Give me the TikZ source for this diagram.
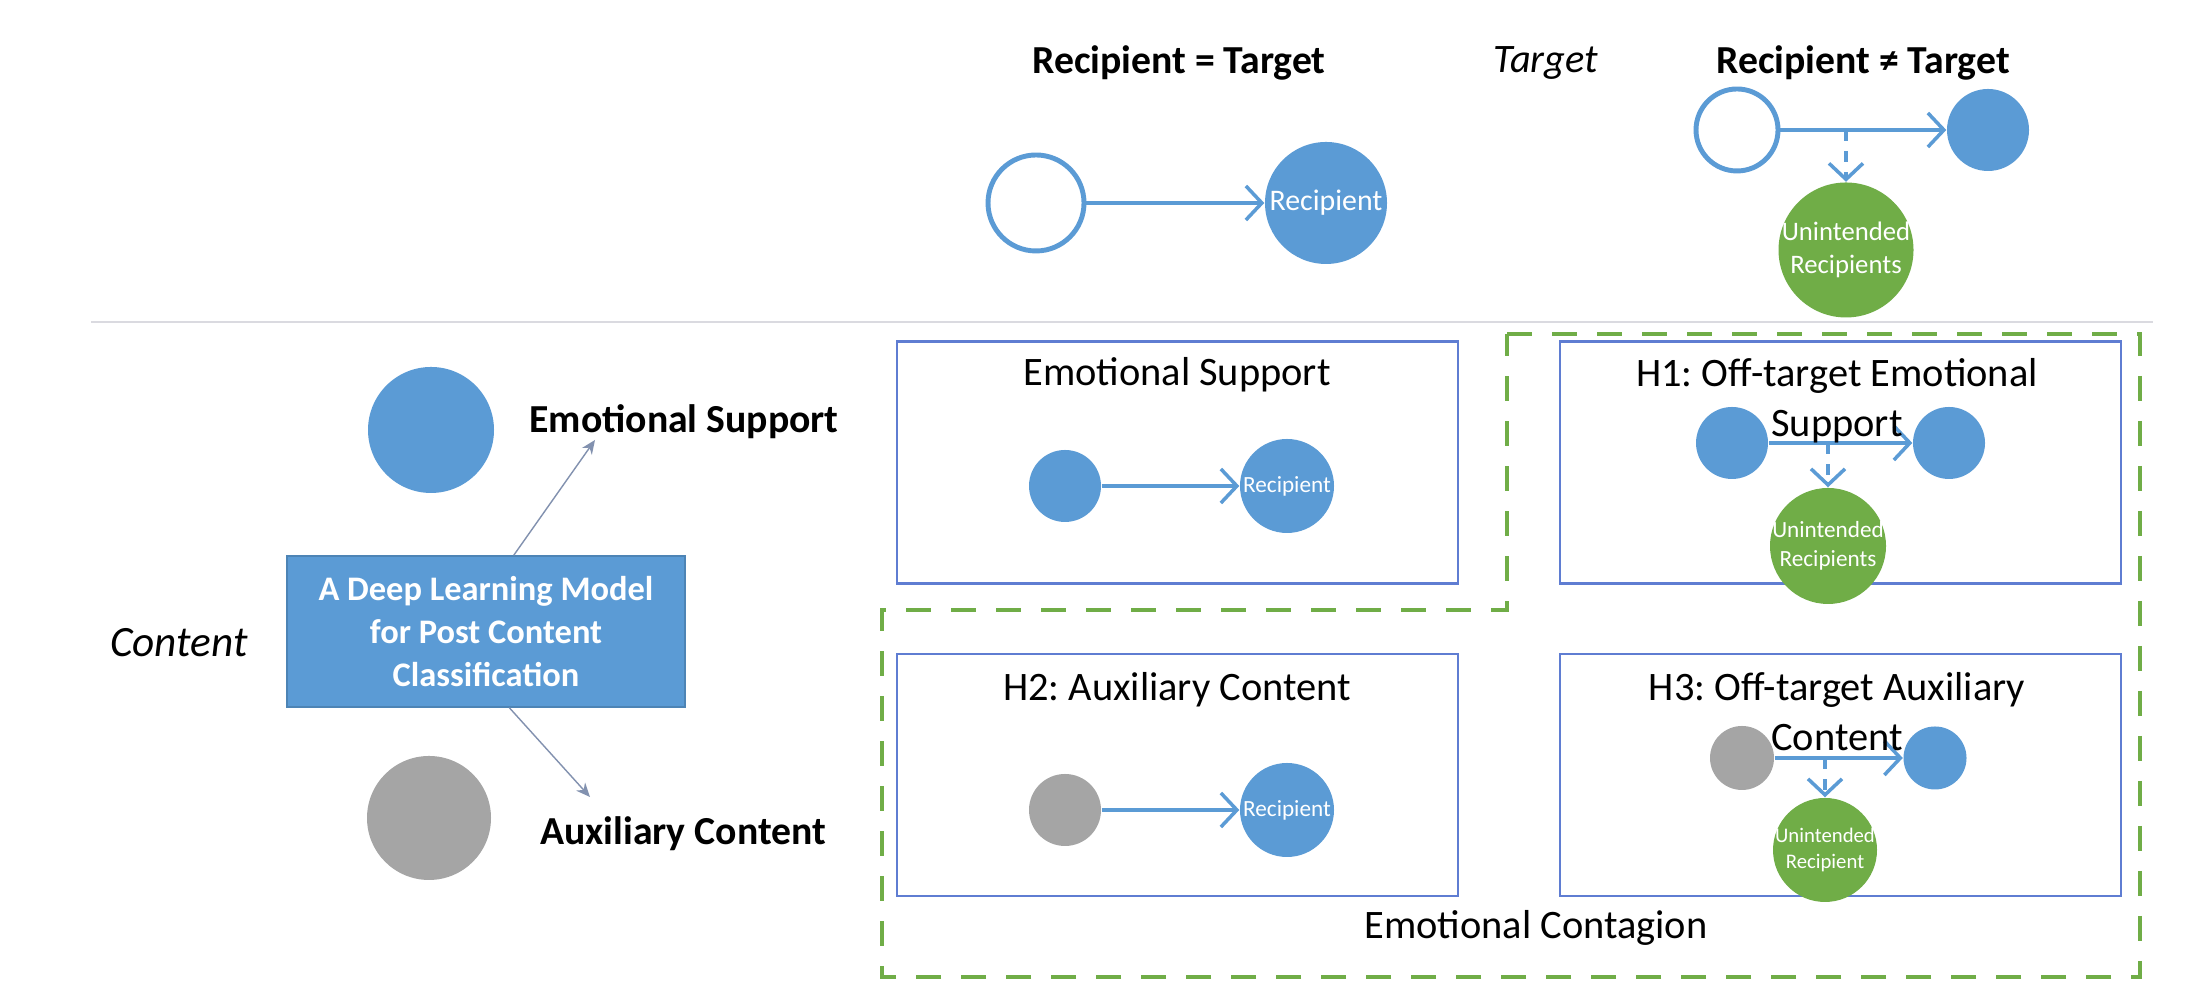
\documentclass[tikz,border=0pt]{standalone}
\usepackage{fontspec}
\setmainfont{Carlito}
\frenchspacing
\usetikzlibrary{arrows.meta}
\definecolor{esblue}{RGB}{91,155,213}
\definecolor{ecgreen}{RGB}{112,173,71}
\definecolor{auxgrey}{RGB}{165,165,165}
\definecolor{boxline}{RGB}{95,125,210}
\definecolor{thinline}{RGB}{130,145,175}
\definecolor{sepgrey}{RGB}{218,218,224}
\begin{document}
\begin{tikzpicture}[scale=1,
		bluedot/.style={circle,fill=esblue,inner sep=0pt,minimum size=#1},
		greydot/.style={circle,fill=auxgrey,inner sep=0pt,minimum size=#1},
		greendot/.style={circle,fill=ecgreen,inner sep=0pt,minimum size=#1},
		opendot/.style={circle,draw=esblue,line width=1.4pt,fill=white,inner sep=0pt,minimum size=#1},
		intext/.style={text=white,align=center,inner sep=0pt},
		hbox/.style={draw=boxline,line width=0.6pt,minimum width=5.61cm,minimum height=2.42cm},
		model/.style={fill=esblue,draw=esblue!85!black,line width=0.4pt,text=white,align=center,
			minimum width=3.98cm,minimum height=1.51cm,font=\fontsize{9.8}{12.3}\selectfont\bfseries},
		flow/.style={draw=esblue,line width=1pt,-{Straight Barb[length=1.6mm,width=3.4mm]}},
		flowdash/.style={flow,dashed},
		pick/.style={draw=thinline,line width=0.4pt,-{Stealth[length=1.4mm,width=1.2mm]}},
		ttl/.style={font=\fontsize{11.5}{14.2}\selectfont,align=center},
		lbl/.style={font=\fontsize{11.3}{13.5}\selectfont\bfseries}
	]
	\useasboundingbox[fill=white] (0,0) rectangle (21.88,10);
	% top: recipient vs target
	\node[lbl] (recEq) at (11.79,9.37) {Recipient = Target};
	\node[font=\fontsize{11.5}{14}\selectfont\itshape] (tgtLbl) at (15.46,9.37) {Target};
	\node[lbl] (recNeq) at (18.63,9.37) {Recipient ≠ Target};
	\node[opendot=0.96cm] (sendA) at (10.36,7.97) {};
	\node[bluedot=1.22cm,label={[intext,font=\fontsize{8.5}{10}\selectfont]center:Recipient}] (recvA) at (13.26,7.97) {};
	\draw[flow] (sendA) -- (recvA);
	\node[opendot=0.82cm] (sendB) at (17.37,8.70) {};
	\node[bluedot=0.82cm] (recvB) at (19.88,8.70) {};
	\node[greendot=1.35cm,label={[intext,font=\fontsize{7.6}{9.6}\selectfont]center:Unintended\\Recipients}] (unB) at (18.46,7.50) {};
	\coordinate (splitB) at (18.46,8.70);
	\draw[flow] (sendB) -- (recvB);
	\draw[flowdash] (splitB) -- (unB);
	\draw[sepgrey,line width=0.8pt] (0.91,6.78) -- (21.53,6.78);
	% left: content
	\node[font=\fontsize{12.3}{14}\selectfont\itshape] (cntLbl) at (1.79,3.57) {Content};
	\node[bluedot=1.26cm] (esDot) at (4.31,5.70) {};
	\node[lbl] (esLbl) at (6.84,5.78) {Emotional Support};
	\node[greydot=1.24cm] (auxDot) at (4.29,1.82) {};
	\node[lbl] (auxLbl) at (6.83,1.66) {Auxiliary Content};
	\node[model] (model) at (4.86,3.685) {A Deep Learning Model\\for Post Content\\Classification};
	\coordinate (esTip) at (5.95,5.60);
	\coordinate (auxTip) at (5.90,2.03);
	\draw[pick] (model.70) -- (esTip);
	\draw[pick] (model.287) -- (auxTip);
	% contagion region
	\draw[ecgreen,line width=1.4pt,dash pattern=on 2.5mm off 2mm] (15.07,6.66) -- (21.40,6.66) -- (21.40,0.23)
		-- (8.82,0.23) -- (8.82,3.90) -- (15.07,3.90) -- cycle;
	% emotional support
	\node[hbox] (boxES) at (11.775,5.375) {};
	\node[bluedot=0.72cm] (esS) at (10.65,5.14) {};
	\node[bluedot=0.94cm,label={[intext,font=\fontsize{6.6}{8}\selectfont]center:Recipient}] (esR) at (12.87,5.14) {};
	\draw[flow] (esS) -- (esR);
	\node[ttl] (esTtl) at (11.77,6.25) {Emotional Support};
	% H1
	\node[hbox] (boxH1) at (18.405,5.375) {};
	\node[bluedot=0.72cm] (h1S) at (17.32,5.57) {};
	\node[bluedot=0.72cm] (h1R) at (19.49,5.57) {};
	\node[greendot=1.16cm,label={[intext,font=\fontsize{6.6}{8.2}\selectfont]center:Unintended\\Recipients}] (h1U) at (18.28,4.54) {};
	\coordinate (h1Split) at (18.28,5.57);
	\draw[flow] (h1S) -- (h1R);
	\draw[flowdash] (h1Split) -- (h1U);
	\node[ttl] (h1Ttl) at (18.37,5.99) {H1: Off-target Emotional\\Support};
	% H2
	\node[hbox] (boxH2) at (11.775,2.25) {};
	\node[greydot=0.72cm] (h2S) at (10.65,1.90) {};
	\node[bluedot=0.94cm,label={[intext,font=\fontsize{6.6}{8}\selectfont]center:Recipient}] (h2R) at (12.87,1.90) {};
	\draw[flow] (h2S) -- (h2R);
	\node[ttl] (h2Ttl) at (11.77,3.10) {H2: Auxiliary Content};
	% H3
	\node[hbox] (boxH3) at (18.405,2.25) {};
	\node[greydot=0.64cm] (h3S) at (17.42,2.42) {};
	\node[bluedot=0.63cm] (h3R) at (19.35,2.42) {};
	\node[greendot=1.04cm,label={[intext,font=\fontsize{5.9}{7.4}\selectfont]center:Unintended\\Recipient}] (h3U) at (18.25,1.50) {};
	\coordinate (h3Split) at (18.25,2.42);
	\draw[flow] (h3S) -- (h3R);
	\draw[flowdash] (h3Split) -- (h3U);
	\node[ttl] (h3Ttl) at (18.37,2.88) {H3: Off-target Auxiliary\\Content};
	\node[ttl] (ecLbl) at (15.36,0.72) {Emotional Contagion};
\end{tikzpicture}
\end{document}
